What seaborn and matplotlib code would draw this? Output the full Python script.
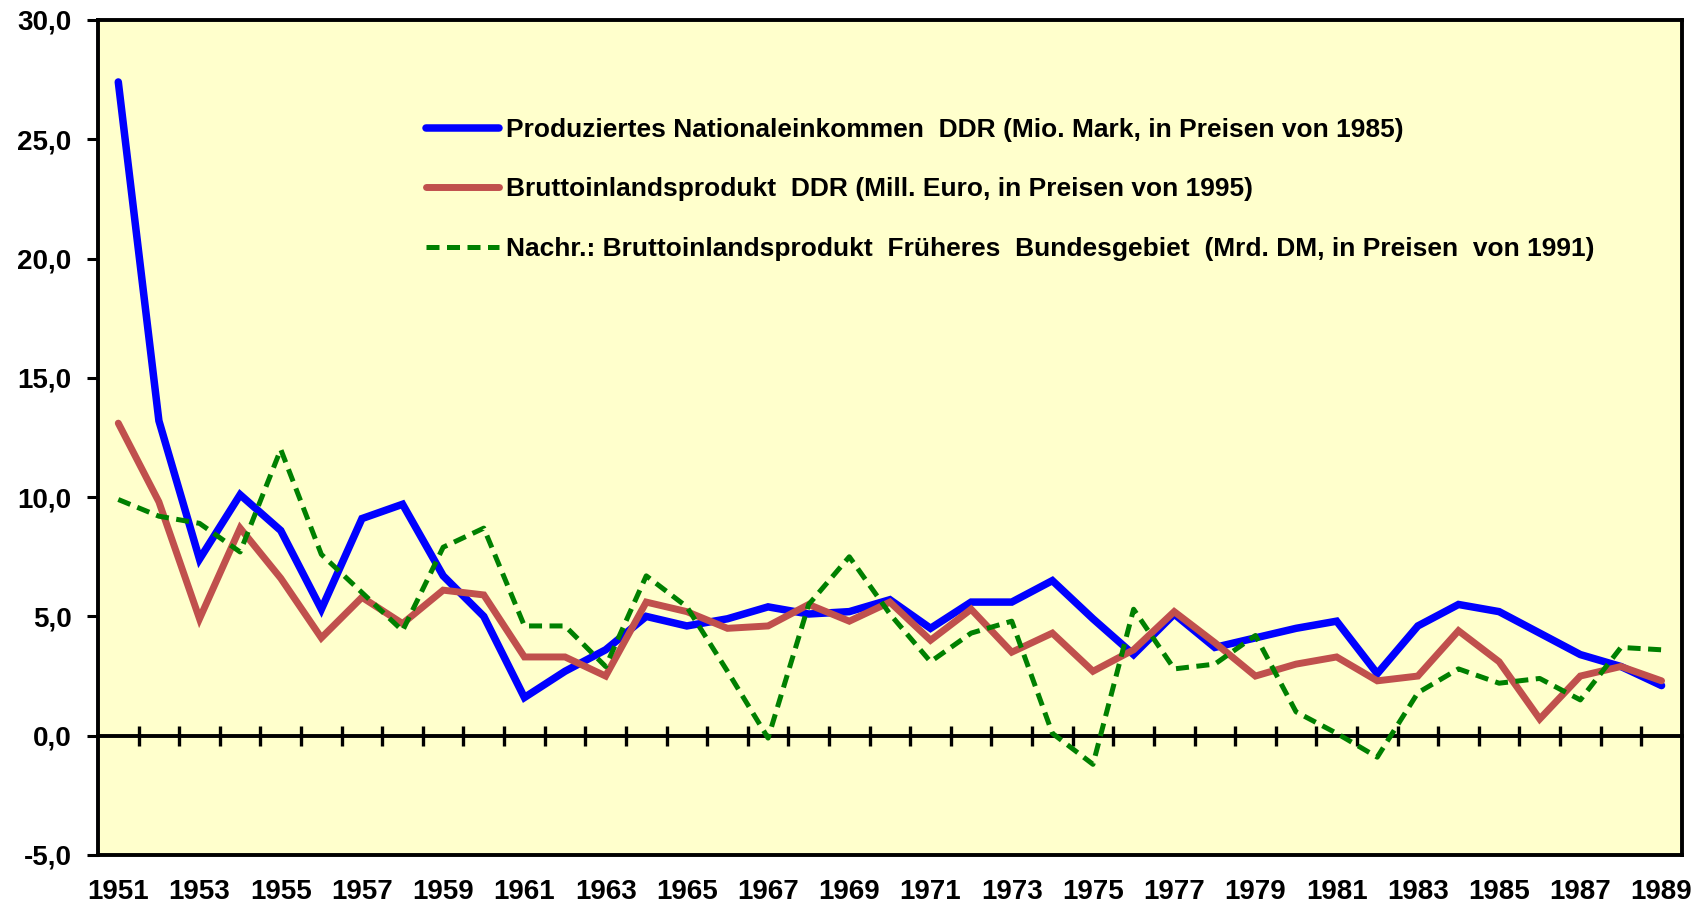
import numpy as np
import pandas as pd
import matplotlib
matplotlib.use("Agg")
import matplotlib.pyplot as plt
import seaborn as sns
from matplotlib.lines import Line2D

years = list(range(1951, 1990))

nationaleinkommen_ddr = [27.4, 13.2, 7.4, 10.1, 8.6, 5.3, 9.1, 9.7, 6.7, 5.0,
                         1.6, 2.7, 3.6, 5.0, 4.6, 4.9, 5.4, 5.1, 5.2, 5.7,
                         4.5, 5.6, 5.6, 6.5, 4.9, 3.4, 5.1, 3.7, 4.1, 4.5,
                         4.8, 2.6, 4.6, 5.5, 5.2, 4.3, 3.4, 2.9, 2.1]

bip_ddr = [13.1, 9.8, 4.9, 8.7, 6.6, 4.1, 5.8, 4.7, 6.1, 5.9,
           3.3, 3.3, 2.5, 5.6, 5.2, 4.5, 4.6, 5.5, 4.8, 5.6,
           4.0, 5.3, 3.5, 4.3, 2.7, 3.6, 5.2, 3.9, 2.5, 3.0,
           3.3, 2.3, 2.5, 4.4, 3.1, 0.7, 2.5, 2.9, 2.3]

bip_brd = [9.9, 9.2, 8.9, 7.7, 12.0, 7.6, 6.0, 4.4, 7.9, 8.7,
           4.6, 4.6, 2.9, 6.7, 5.4, 2.7, -0.1, 5.5, 7.5, 5.1,
           3.1, 4.3, 4.8, 0.1, -1.2, 5.3, 2.8, 3.0, 4.2, 1.0,
           0.1, -0.9, 1.8, 2.8, 2.2, 2.4, 1.5, 3.7, 3.6]

series_labels = [
    "Produziertes Nationaleinkommen  DDR (Mio. Mark, in Preisen von 1985)",
    "Bruttoinlandsprodukt  DDR (Mill. Euro, in Preisen von 1995)",
    "Nachr.: Bruttoinlandsprodukt  Früheres  Bundesgebiet  (Mrd. DM, in Preisen  von 1991)",
]

x_tick_years = list(range(1951, 1990, 2))
x_tick_labels = [str(y) for y in x_tick_years]
y_ticks = [-5, 0, 5, 10, 15, 20, 25, 30]
y_tick_labels = ["-5,0", "0,0", "5,0", "10,0", "15,0", "20,0", "25,0", "30,0"]

sns.set_theme(style="white")
plt.rcParams["font.family"] = ["Liberation Sans", "DejaVu Sans"]
plt.rcParams["text.color"] = "black"

BLUE_LW, RED_LW, GREEN_LW = 5.4, 5.0, 3.6
GREEN_DASH = (0, (2.6, 1.5))

fig = plt.figure(figsize=(17.04, 9.06), dpi=100)
ax = fig.add_axes([0.0575, 0.0563, 0.9295, 0.9217])
ax.set_facecolor("#FFFFCC")

df = pd.DataFrame({"Jahr": years, "a": nationaleinkommen_ddr, "b": bip_ddr, "c": bip_brd})

sns.lineplot(data=df, x="Jahr", y="a", ax=ax, color="#0000FF", linewidth=BLUE_LW,
             solid_joinstyle="miter", legend=False, zorder=3)
sns.lineplot(data=df, x="Jahr", y="b", ax=ax, color="#C0504D", linewidth=RED_LW,
             solid_joinstyle="miter", legend=False, zorder=4)
sns.lineplot(data=df, x="Jahr", y="c", ax=ax, color="#008000", linewidth=GREEN_LW,
             legend=False, zorder=5)
green_line = ax.lines[-1]
green_line.set_linestyle(GREEN_DASH)
green_line.set_dash_capstyle("butt")

ax.set_xlim(1950.5, 1989.5)
ax.set_ylim(-5, 30)
ax.set_xlabel("")
ax.set_ylabel("")

ax.set_xticks(x_tick_years)
ax.set_xticklabels(x_tick_labels, fontsize=20, fontweight="bold")
ax.tick_params(axis="x", length=0, pad=17, colors="black")
ax.set_yticks(y_ticks)
ax.set_yticklabels(y_tick_labels, fontsize=20, fontweight="bold")
ax.tick_params(axis="y", direction="out", length=8, width=2.2, pad=11, left=True, colors="black")

for s in ax.spines.values():
    s.set_visible(True)
    s.set_color("black")
    s.set_linewidth(2.8)

# zero line with tick marks between the categories
zero_pos = (0 - (-5)) / (30 - (-5))
sec = ax.secondary_xaxis(zero_pos)
sec.spines["bottom"].set_linewidth(2.8)
sec.spines["bottom"].set_color("black")
sec.set_xticks([y + 0.5 for y in years[:-1]])
sec.tick_params(axis="x", direction="inout", length=15, width=2.4, labelbottom=False, colors="black")

handles = [
    Line2D([0], [0], color="#0000FF", linewidth=BLUE_LW, solid_capstyle="round"),
    Line2D([0], [0], color="#C0504D", linewidth=RED_LW, solid_capstyle="round"),
    Line2D([0], [0], color="#008000", linewidth=GREEN_LW, linestyle=GREEN_DASH, dash_capstyle="butt"),
]
leg = ax.legend(handles, series_labels, loc="upper left",
                bbox_to_anchor=(0.25, 0.870), bbox_transform=fig.transFigure,
                frameon=False, borderpad=0, borderaxespad=0,
                handlelength=2.75, handletextpad=0.3, labelspacing=1.35,
                prop={"family": "Liberation Sans", "weight": "bold", "size": 19})
for t in leg.get_texts():
    t.set_color("black")

fig.savefig("out.png", dpi=100, facecolor="white")
